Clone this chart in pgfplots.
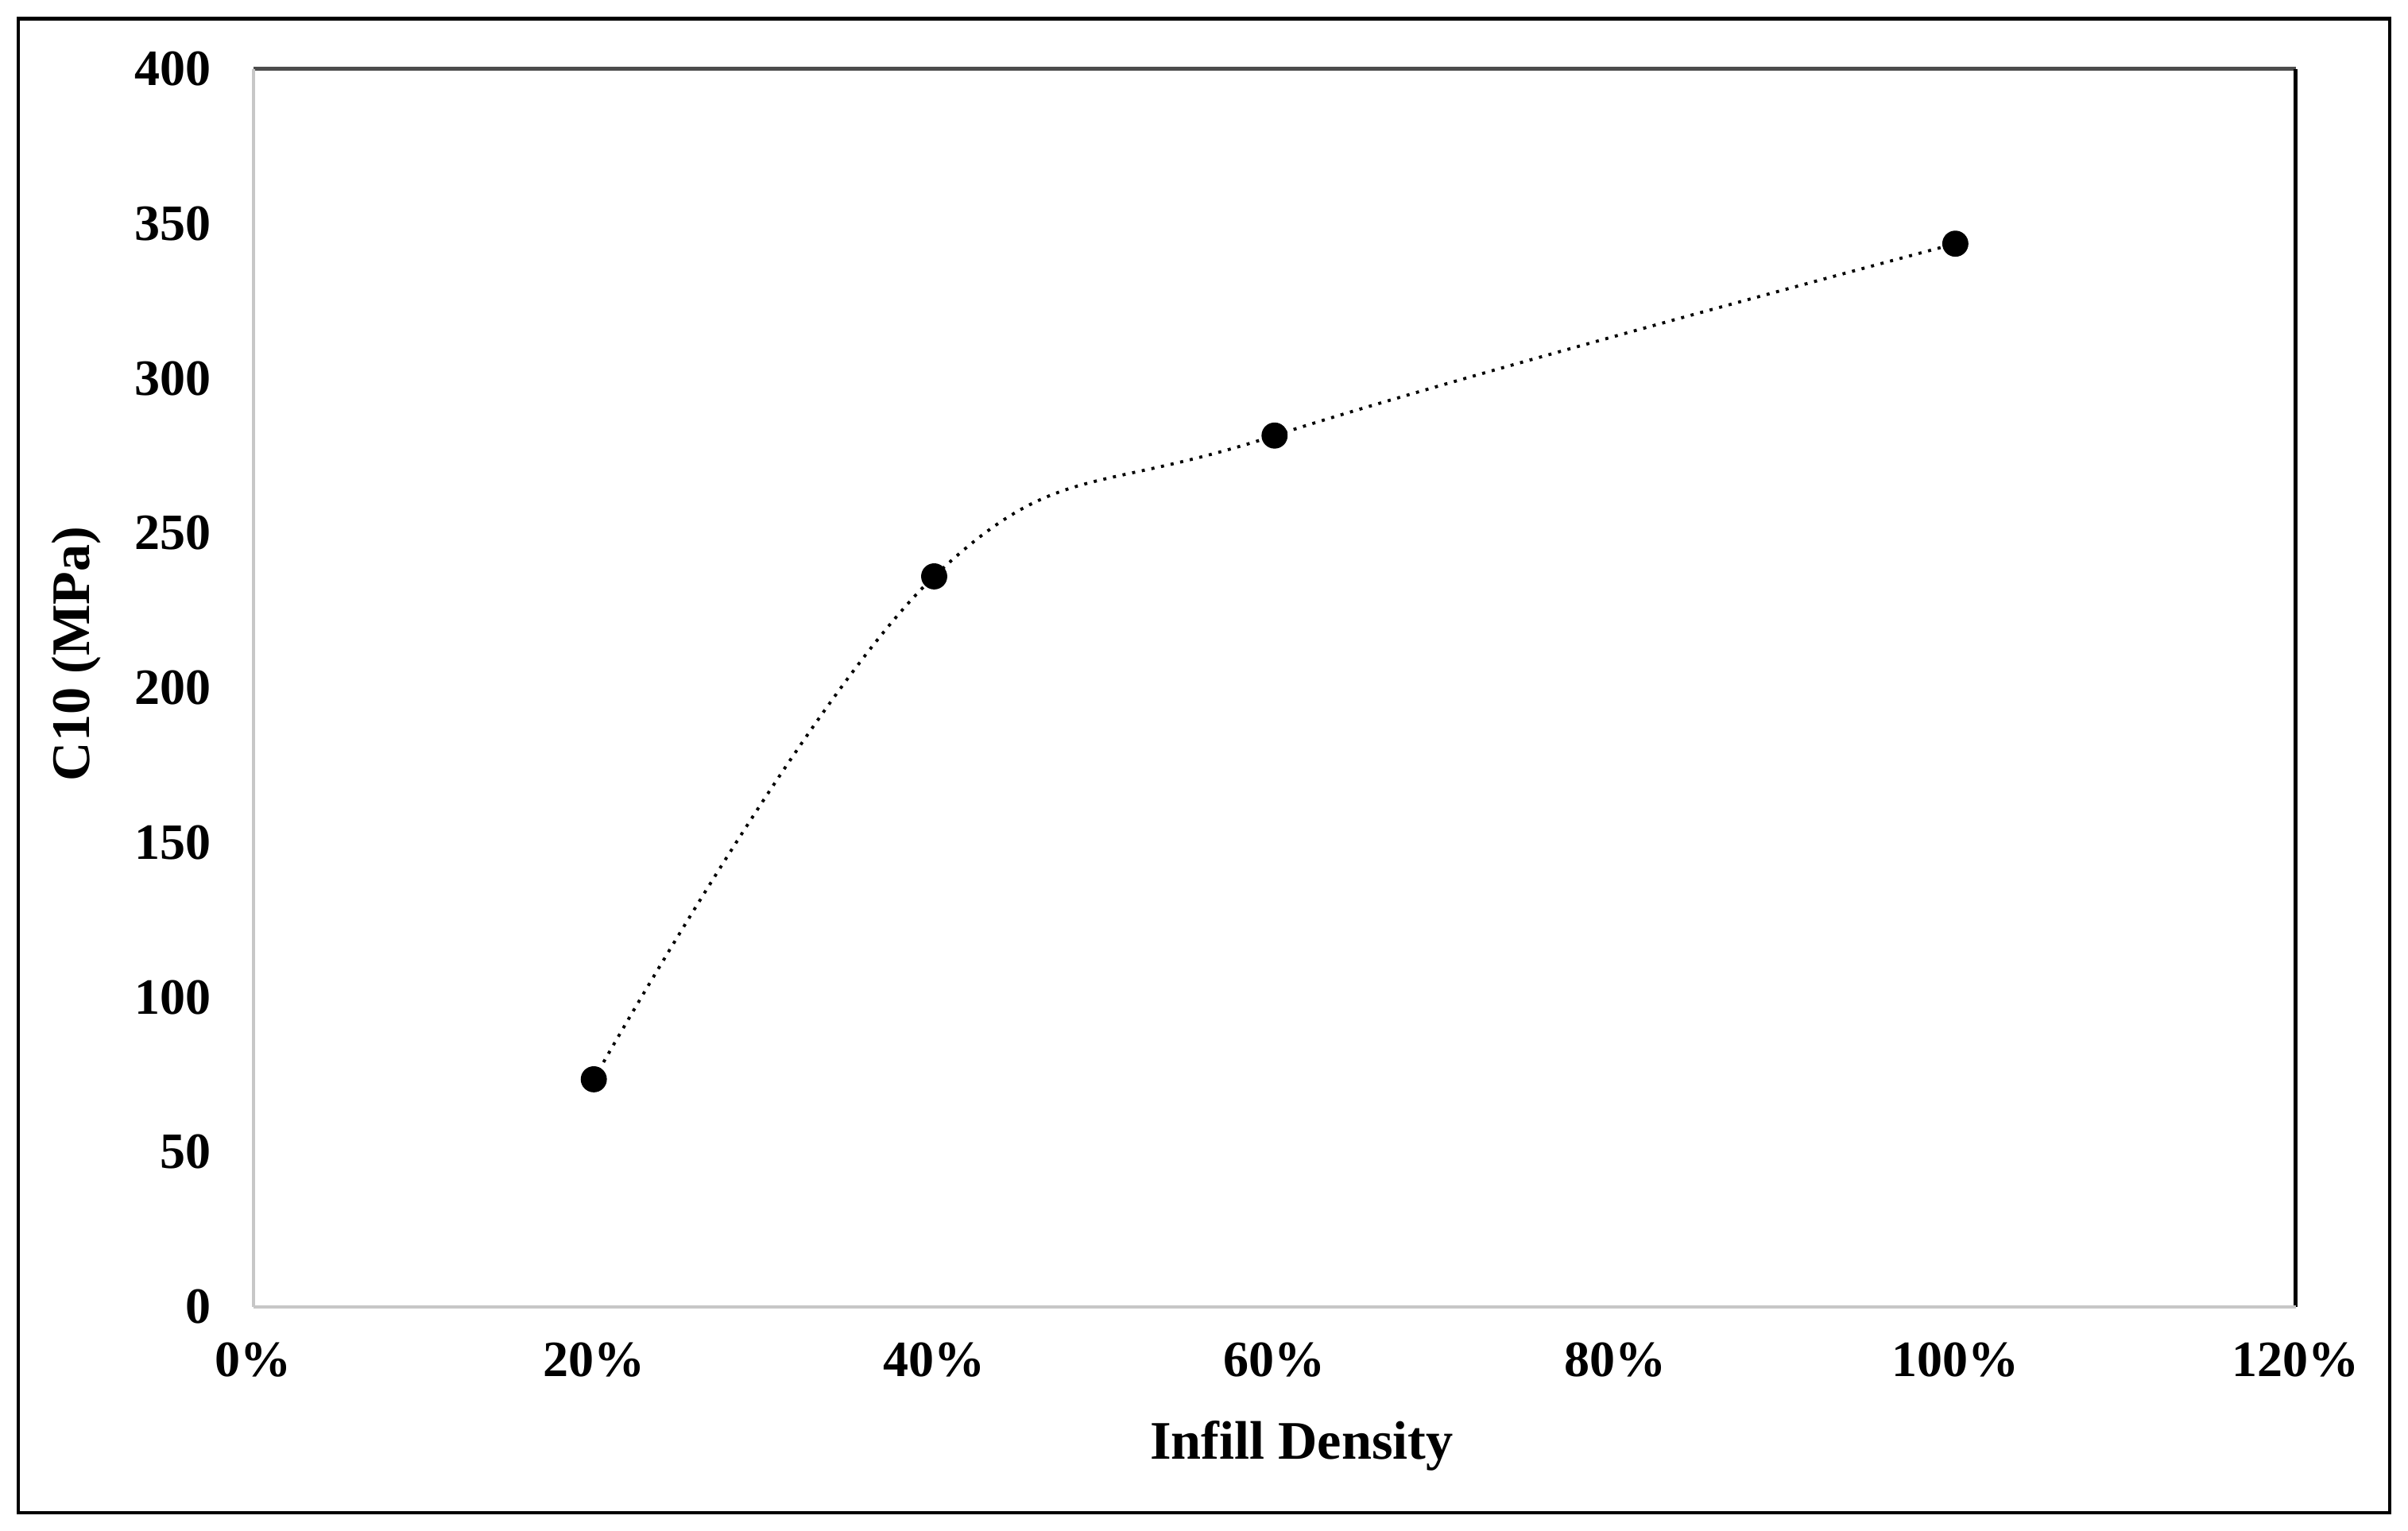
\documentclass[border=0pt]{standalone}
\usepackage{pgfplots}
\pgfplotsset{compat=1.18}
\usepackage{fontspec}
\setmainfont{Liberation Serif}
\begin{document}
\begin{tikzpicture}
\useasboundingbox (-74.7pt,-66.1pt) rectangle (635.1pt,385.3pt);
\draw[line width=1.1pt,black] (-69.3pt,-60.7pt) rectangle (629.7pt,379.8pt);
\begin{axis}[
  at={(0,0)}, anchor=south west,
  scale only axis, width=602pt, height=365pt,
  xmin=0, xmax=1.2, ymin=0, ymax=400,
  xtick={0,0.2,0.4,0.6,0.8,1.0,1.2},
  xticklabels={0\%,20\%,40\%,60\%,80\%,100\%,120\%},
  ytick={0,50,...,400},
  major tick length=0pt,
  axis line style={draw=none},
  tick label style={font=\fontsize{15}{17}\selectfont\bfseries},
  /pgf/number format/assume math mode=true,
  y tick label style={xshift=-9pt},
  x tick label style={yshift=-7pt},
  xlabel={Infill Density},
  ylabel={C10 (MPa)},
  label style={font=\fontsize{16}{18}\selectfont\bfseries},
  xlabel style={yshift=-6pt, xshift=8pt},
  ylabel style={yshift=3pt, xshift=10pt},
  clip=false,
]
\draw[line width=1.3pt, black!70] (rel axis cs:0,1) -- (rel axis cs:1,1);
\draw[line width=1.1pt, black] (rel axis cs:1,0) -- (rel axis cs:1,1);
\draw[line width=0.9pt, black!22] (rel axis cs:0,0) -- (rel axis cs:1,0);
\draw[line width=0.9pt, black!22] (rel axis cs:0,0) -- (rel axis cs:0,1);
\addplot[black, line width=0.9pt, dotted, smooth, tension=0.65,
  mark=*, mark size=3.4pt, mark options={solid, fill=black}]
  coordinates {(0.2,73.5) (0.4,236) (0.6,281.5) (1.0,343.5)};
\end{axis}
\end{tikzpicture}
\end{document}
